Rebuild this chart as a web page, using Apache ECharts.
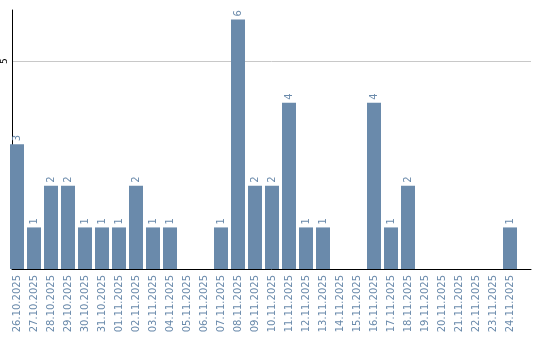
<!DOCTYPE html>
<html><head><meta charset="utf-8">
<script src="https://cdn.jsdelivr.net/npm/echarts@6/dist/echarts.min.js"></script>
<style>html,body{margin:0;padding:0;background:#fff}#c{width:540px;height:340px}</style>
</head><body><div id="c"></div>
<script>
const categories = ["26.10.2025","27.10.2025","28.10.2025","29.10.2025","30.10.2025","31.10.2025","01.11.2025","02.11.2025","03.11.2025","04.11.2025","05.11.2025","06.11.2025","07.11.2025","08.11.2025","09.11.2025","10.11.2025","11.11.2025","12.11.2025","13.11.2025","14.11.2025","15.11.2025","16.11.2025","17.11.2025","18.11.2025","19.11.2025","20.11.2025","21.11.2025","22.11.2025","23.11.2025","24.11.2025"];
const values = [3,1,2,2,1,1,1,2,1,1,0,0,1,6,2,2,4,1,1,0,0,4,1,2,0,0,0,0,0,1];
const yMax = 6.23;
const chart = echarts.init(document.getElementById('c'));
chart.setOption({
  animation:false,
  grid:[
    {left:8.5,right:21.5,top:10,bottom:71},
    {left:10,right:9,top:10,bottom:71}
  ],
  xAxis:[
    {type:'category',data:categories,gridIndex:0,
      axisLine:{show:false},
      axisTick:{show:false},
      axisLabel:{rotate:90,interval:0,color:'#6a8aab',fontFamily:'DejaVu Sans',fontSize:10,margin:6}},
    {type:'value',gridIndex:1,min:0,max:1,
      axisLine:{show:true,onZero:false,lineStyle:{color:'#000',width:1}},
      axisTick:{show:false},axisLabel:{show:false},splitLine:{show:false}}
  ],
  yAxis:[
    {type:'value',gridIndex:0,min:0,max:yMax,interval:5,
      axisLine:{show:false},axisTick:{show:false},axisLabel:{show:false},splitLine:{show:false}},
    {type:'value',gridIndex:1,min:0,max:yMax,interval:5,
      axisLine:{show:true,lineStyle:{color:'#000'}},
      axisTick:{show:false},
      axisLabel:{showMinLabel:false,showMaxLabel:false,rotate:90,color:'#000',fontFamily:'DejaVu Sans',fontSize:9,margin:3},
      splitLine:{show:true,showMinLine:false,showMaxLine:false,lineStyle:{color:'#c8c8c8'}}}
  ],
  series:[{type:'bar',xAxisIndex:0,yAxisIndex:0,data:values,barWidth:14,
    itemStyle:{color:'#6a8aab'},
    label:{show:true,position:'top',rotate:90,align:'left',verticalAlign:'middle',distance:3,
      color:'#6a8aab',fontFamily:'DejaVu Sans',fontSize:10,
      formatter:p=>p.value>0?String(p.value):''}}]
});
</script></body></html>
